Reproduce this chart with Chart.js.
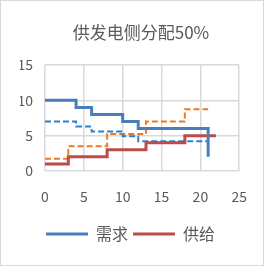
<!DOCTYPE html>
<html><head><meta charset="utf-8">
<script src="https://cdn.jsdelivr.net/npm/chart.js@4/dist/chart.umd.min.js"></script>
<style>
html,body{margin:0;padding:0;background:#fff;}
#wrap{position:absolute;left:0;top:0;width:264px;height:266px;box-sizing:border-box;border:1px solid #d9d9d9;}
canvas{position:absolute;left:0;top:0;}
</style></head>
<body><div id="wrap"></div><canvas id="c" width="264" height="266"></canvas>
<script>
const title = '供发电侧分配50%';
const xTicks = [0,5,10,15,20,25];
const yTicks = [0,5,10,15];
// step series: value holds from x[i] until x[i+1]
const demandX = [0,4,6,10,12,21,21];
const demandY = [10,9,8,7,6,6,2];
const demandAdjX = [0,4,6,10,12,21];
const demandAdjY = [7,6.3,5.6,4.9,4.2,4.2];
const supplyX = [0,3,8,13,18,22];
const supplyY = [1,2,3,4,5,5];
const supplyAdjX = [0,3,8,13,18,21];
const supplyAdjY = [1.75,3.5,5.25,7,8.75,8.75];

const pts = (xs, ys) => xs.map((x,i)=>({x, y: ys[i]}));
const FONT = "'Noto Sans CJK SC', 'Noto Sans', sans-serif";

const titlePlugin = {
  id: 'titleText',
  afterDraw(chart) {
    const ctx = chart.ctx;
    ctx.save();
    ctx.font = '17px ' + FONT;
    ctx.fillStyle = '#595959';
    ctx.textAlign = 'center';
    ctx.textBaseline = 'middle';
    ctx.fillText(title, 141, 33);
    ctx.restore();
  }
};

new Chart(document.getElementById('c'), {
  type: 'scatter',
  data: { datasets: [
    { label: '需求', data: pts(demandX, demandY), showLine: true, stepped: 'before', borderColor: '#4a7ebb', backgroundColor: '#4a7ebb', borderWidth: 3, pointRadius: 0, order: 1 },
    { label: '供给', data: pts(supplyX, supplyY), showLine: true, stepped: 'before', borderColor: '#be4b48', backgroundColor: '#be4b48', borderWidth: 3, pointRadius: 0, order: 2 },
    { label: 'd2', data: pts(demandAdjX, demandAdjY), showLine: true, stepped: 'before', borderColor: '#2a80d0', borderWidth: 2, borderDash: [6,3], pointRadius: 0, order: 3 },
    { label: 's2', data: pts(supplyAdjX, supplyAdjY), showLine: true, stepped: 'before', borderColor: '#ee7a23', borderWidth: 2, borderDash: [6,3], pointRadius: 0, order: 4 }
  ]},
  options: {
    responsive: false, animation: false,
    layout: { padding: { left: 20, right: 23, top: 65, bottom: 14 } },
    plugins: {
      title: { display: false },
      legend: { position: 'bottom', labels: { filter: (it) => { it.lineWidth = 0; return it.datasetIndex < 2; }, boxWidth: 42, boxHeight: 3, color: '#595959', font: { family: FONT, size: 16 }, padding: 5 } },
      tooltip: { enabled: false }
    },
    scales: {
      x: { type: 'linear', min: 0, max: 25, afterBuildTicks: s => { s.ticks = xTicks.map(v=>({value:v})); },
           afterFit: s => { s.height = 50; },
           grid: { color: '#d9d9d9', lineWidth: 1.5, drawTicks: false }, border: { display: false },
           ticks: { color: '#595959', font: { family: FONT, size: 14 }, padding: 17, maxRotation: 0 } },
      y: { min: 0, max: 15, afterBuildTicks: s => { s.ticks = yTicks.map(v=>({value:v})); },
           afterFit: s => { s.width = 25; },
           grid: { color: '#d9d9d9', lineWidth: 1.5, drawTicks: false }, border: { display: false },
           ticks: { color: '#595959', font: { family: FONT, size: 14 }, padding: 12 } }
    }
  },
  plugins: [titlePlugin]
});
</script></body></html>
